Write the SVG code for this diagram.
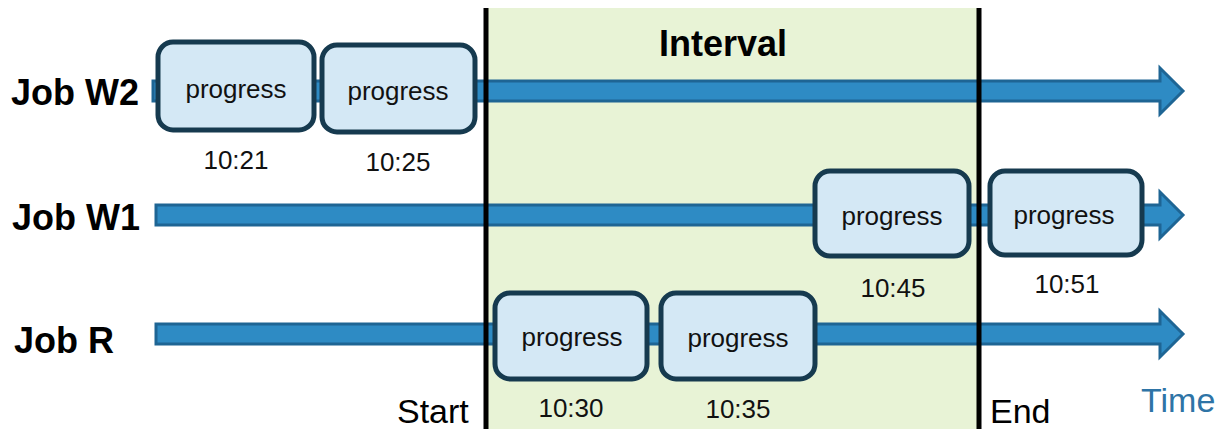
<svg xmlns="http://www.w3.org/2000/svg" width="1220" height="429" viewBox="0 0 1220 429">
<style>
.lbl{font-family:"Liberation Sans",Arial,sans-serif;font-weight:bold;font-size:36px;fill:#000}
.box{fill:#d4e8f5;stroke:#163a4f;stroke-width:5}
.pt{font-family:"Liberation Sans",Arial,sans-serif;font-size:26px;fill:#111;text-anchor:middle}
.arr{fill:#2e8bc4;stroke:#1e6594;stroke-width:3;stroke-linejoin:miter}
.edge{stroke:#000;stroke-width:5}
.ax{font-family:"Liberation Sans",Arial,sans-serif;font-size:34px;fill:#000}
</style>
<rect x="0" y="0" width="1220" height="429" fill="#fff"/>
<rect id="interval" x="486" y="8" width="493" height="421" fill="#e8f3d6"/>
<g id="connectors">
<polygon class="arr" points="153,81 1160,81 1160,68 1183,91 1160,114 1160,101 153,101"/>
<polygon class="arr" points="156,205 1160,205 1160,192 1183,215 1160,238 1160,225 156,225"/>
<polygon class="arr" points="156,324 1160,324 1160,311 1183,334 1160,357 1160,344 156,344"/>
</g>
<line class="edge" x1="486" y1="8" x2="486" y2="429"/>
<line class="edge" x1="979" y1="8" x2="979" y2="429"/>
<text class="lbl" x="723" y="56" text-anchor="middle">Interval</text>
<g id="job-w2"><text class="lbl" x="11" y="105">Job W2</text></g>
<g id="job-w1"><text class="lbl" x="12" y="230">Job W1</text></g>
<g id="job-r"><text class="lbl" x="14" y="353">Job R</text></g>
<g id="w2-p1"><rect class="box" x="158" y="42" width="156" height="88" rx="15"/><text class="pt" x="236" y="98">progress</text><text class="pt" x="236" y="169">10:21</text></g>
<g id="w2-p2"><rect class="box" x="322" y="45" width="153" height="87" rx="15"/><text class="pt" x="398" y="100">progress</text><text class="pt" x="398" y="171">10:25</text></g>
<g id="w1-p1"><rect class="box" x="815" y="171" width="154" height="85" rx="15"/><text class="pt" x="892" y="225">progress</text><text class="pt" x="893" y="297">10:45</text></g>
<g id="w1-p2"><rect class="box" x="990" y="171" width="152" height="84" rx="15"/><text class="pt" x="1064" y="224">progress</text><text class="pt" x="1067" y="293">10:51</text></g>
<g id="r-p1"><rect class="box" x="495" y="293" width="152" height="86" rx="15"/><text class="pt" x="572" y="346">progress</text><text class="pt" x="571" y="417">10:30</text></g>
<g id="r-p2"><rect class="box" x="661" y="293" width="154" height="86" rx="15"/><text class="pt" x="738" y="347">progress</text><text class="pt" x="738" y="418">10:35</text></g>
<text class="ax" x="397" y="423">Start</text>
<text class="ax" x="990" y="423">End</text>
<text class="ax" x="1141" y="412" style="fill:#2e74a6">Time</text>
</svg>
